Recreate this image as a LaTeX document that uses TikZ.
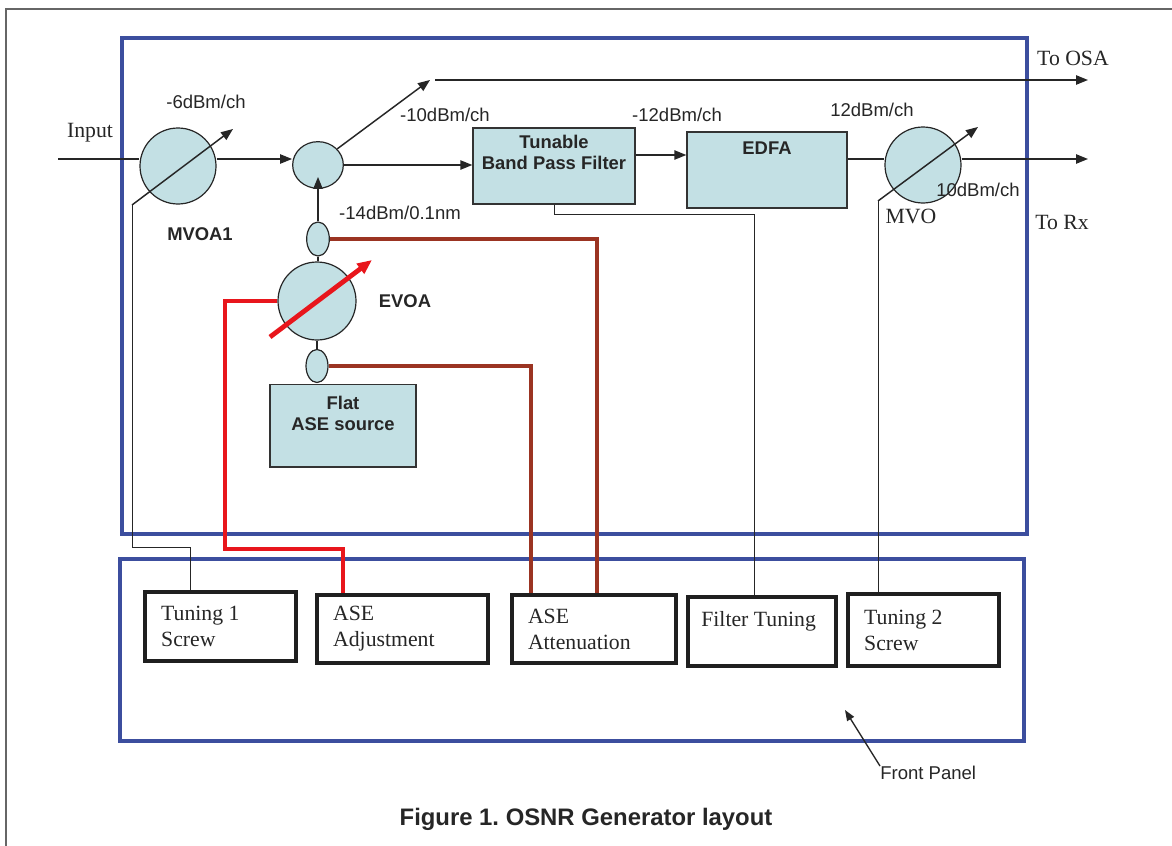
\documentclass[tikz,border=0pt]{standalone}
\usepackage{fontspec}
\setmainfont{Liberation Serif}
\setsansfont{Liberation Sans}
\usetikzlibrary{shapes.geometric, arrows.meta, calc}

\definecolor{framebl}{RGB}{60,78,158}
\definecolor{partfill}{RGB}{195,224,228}
\definecolor{knobred}{RGB}{232,22,28}
\definecolor{knobbrn}{RGB}{155,52,34}

\newcommand{\lblfont}{\sffamily\fontsize{13.9}{16}\selectfont}
\newcommand{\lblbfont}{\sffamily\bfseries\fontsize{13.8}{15.75}\selectfont}
\newcommand{\serfont}{\rmfamily\fontsize{16.3}{19.5}\selectfont}

\begin{document}
\begin{tikzpicture}[x=0.75pt, y=-0.75pt,
    fibre/.style={line width=1.1pt, black!85},
    sig/.style={fibre, -{Triangle[length=9pt,width=7pt]}},
    ctrl/.style={line width=0.7pt, black!85},
    redline/.style={line width=3.6pt, knobred},
    brnline/.style={line width=3pt, knobbrn},
    vcirc/.style={circle, draw=black!85, line width=0.9pt, fill=partfill, inner sep=0pt},
    tap/.style={ellipse, draw=black!85, line width=0.9pt, fill=partfill, inner sep=0pt},
    part/.style={rectangle, draw=black!80, line width=1pt, fill=partfill, inner sep=0pt},
    partlbl/.style={font=\lblbfont, align=center, inner sep=0pt, text=black!85},
    panel/.style={rectangle, draw=black!88, line width=3pt, align=flush left, inner xsep=12pt, font=\serfont, text=black!85},
    lbl/.style={font=\lblfont, inner sep=0pt, text=black!85},
    lblb/.style={font=\lblbfont, inner sep=0pt, text=black!85},
    serlbl/.style={font=\serfont, inner sep=0pt, text=black!85}]

    \fill[white] (0,0) rectangle (1172,846);
    \useasboundingbox (0,0) rectangle (1172,846);
    \draw[black!60, line width=0.8pt] (1172,9) -- (6,9) -- (6,846);

    % housing and front panel
    \draw[framebl, line width=3pt] (122,38) rectangle (1027,534);
    \draw[framebl, line width=3pt] (120,559) rectangle (1024,741);

    % optical parts
    \node[vcirc, minimum size=57pt] (mvoa1) at (178,166) {};
    \node[tap, minimum width=38pt, minimum height=35pt] (coupler) at (318,165) {};
    \node[tap, minimum width=17pt, minimum height=25.5pt] (tapA) at (318,239) {};
    \node[vcirc, minimum size=58.5pt] (evoa) at (317,301) {};
    \node[tap, minimum width=16.5pt, minimum height=24.75pt] (tapB) at (317,366) {};
    \node[part, minimum width=109.5pt, minimum height=62pt,
          label={[partlbl, anchor=north, yshift=-9pt]north:{Flat\\ASE source}}] (ase) at (343,425.5) {};
    \node[part, minimum width=121.5pt, minimum height=57pt,
          label={[partlbl, anchor=north, yshift=-5.5pt]north:{Tunable\\Band Pass Filter}}] (filter) at (554,166) {};
    \node[part, minimum width=120pt, minimum height=57pt,
          label={[partlbl, anchor=north, yshift=-8pt]north:EDFA}] (edfa) at (767,170) {};
    \node[vcirc, minimum size=57pt] (mvo) at (923,165) {};

    % front panel knobs
    \node[panel, text width=89pt, minimum height=52pt] (tun1) at (220.5,626.5) {Tuning 1\\Screw};
    \node[panel, text width=104pt, minimum height=51pt] (aseadj) at (402.5,629) {ASE\\Adjustment};
    \node[panel, text width=99pt, minimum height=51pt] (aseatt) at (594,629) {ASE\\Attenuation};
    \node[panel, text width=91pt, inner xsep=10pt, minimum height=52pt] (filt) at (762,631.5) {Filter Tuning\\~};
    \node[panel, text width=89pt, minimum height=54pt] (tun2) at (923.5,630) {Tuning 2\\Screw};

    \coordinate (inp) at (58,159);
    \coordinate (m1tail) at (132,205);
    \coordinate (m1tip) at (233,129);
    \coordinate (t1bend) at (190,547);
    \coordinate (evtail) at (270,337);
    \coordinate (evtip) at (372,260);
    \coordinate (redbend) at (225,549);
    \coordinate (adjknob) at (343,549);
    \coordinate (osatip) at (430,80);
    \coordinate (osastart) at (435,80);
    \coordinate (osaend) at (1088,80);
    \coordinate (rxend) at (1088,159);
    \coordinate (fout) at ([yshift=8.25pt]filter.east);
    \coordinate (fbend) at (754,214);
    \coordinate (mvtail) at (878,201);
    \coordinate (mvtip) at (978,127);
    \coordinate (fptip) at (845,710);

    % texts
    \node[serlbl] (inlbl) at (90,133) {Input};
    \node[lbl] (pw1) at (206,102) {-6dBm/ch};
    \node[lblb] (m1lbl) at (200,234) {MVOA1};
    \node[lbl] (pw2) at (445,115) {-10dBm/ch};
    \node[lbl] (pw3) at (400,213) {-14dBm/0.1nm};
    \node[lbl] (pw4) at (677,115) {-12dBm/ch};
    \node[lbl] (pw5) at (872,110) {12dBm/ch};
    \node[lbl] (pw6) at (978,190) {10dBm/ch};
    \node[serlbl] (mvolbl) at (911,216) {MVO};
    \node[serlbl] (osalbl) at (1073,58) {To OSA};
    \node[serlbl] (rxlbl) at (1062,222) {To Rx};
    \node[lblb] (evlbl) at (405,301) {EVOA};
    \node[lbl, anchor=north west] (fplbl) at (880,766) {Front Panel};
    \node[font=\sffamily\bfseries\fontsize{17.9}{20}\selectfont, text=black!85] (cap) at (586,819) {Figure 1.\ OSNR Generator layout};

    % signal path
    \draw[fibre] (inp) -- (inp -| mvoa1.west);
    \draw[sig] (mvoa1.east |- inp) -- (inp -| coupler.west);
    \draw[sig] (coupler.east) -- (coupler.east -| filter.west);
    \draw[sig] (coupler.40) -- (osatip);
    \draw[sig] (osastart) -- (osaend);
    \draw[sig] (fout) -- (fout -| edfa.west);
    \draw[fibre] (edfa.east |- rxend) -- (mvo.west |- rxend);
    \draw[sig] (mvo.east |- rxend) -- (rxend);
    \draw[sig] (tapA.north) -- ([yshift=9pt]tapA.north |- coupler.south);
    \draw[fibre] (tapA.south) -- (tapA.south |- evoa.north);
    \draw[fibre] (evoa.south) -- (tapB.north);
    \draw[sig] (m1tail) -- (m1tip);
    \draw[sig] (mvtail) -- (mvtip);
    \draw[redline, -{Triangle[length=11pt,width=9pt]}] (evtail) -- (evtip);

    % control links
    \draw[ctrl] (m1tail) |- (t1bend) -- (t1bend |- tun1.north);
    \draw[ctrl] (filter.south) |- (fbend) -- (fbend |- filt.north);
    \draw[ctrl] (mvtail) -- (mvtail |- tun2.north);
    \draw[redline] (evoa.west) -| (redbend) -- (adjknob) -- (adjknob |- aseadj.north);
    \draw[brnline] (tapA.east) -| ($(aseatt.north west)+(87,0)$);
    \draw[brnline] (tapB.east) -| ($(aseatt.north west)+(21,0)$);

    \draw[ctrl, line width=1pt, -{Triangle[length=8pt,width=6pt]}] (fplbl.north west) -- (fptip);
\end{tikzpicture}
\end{document}
